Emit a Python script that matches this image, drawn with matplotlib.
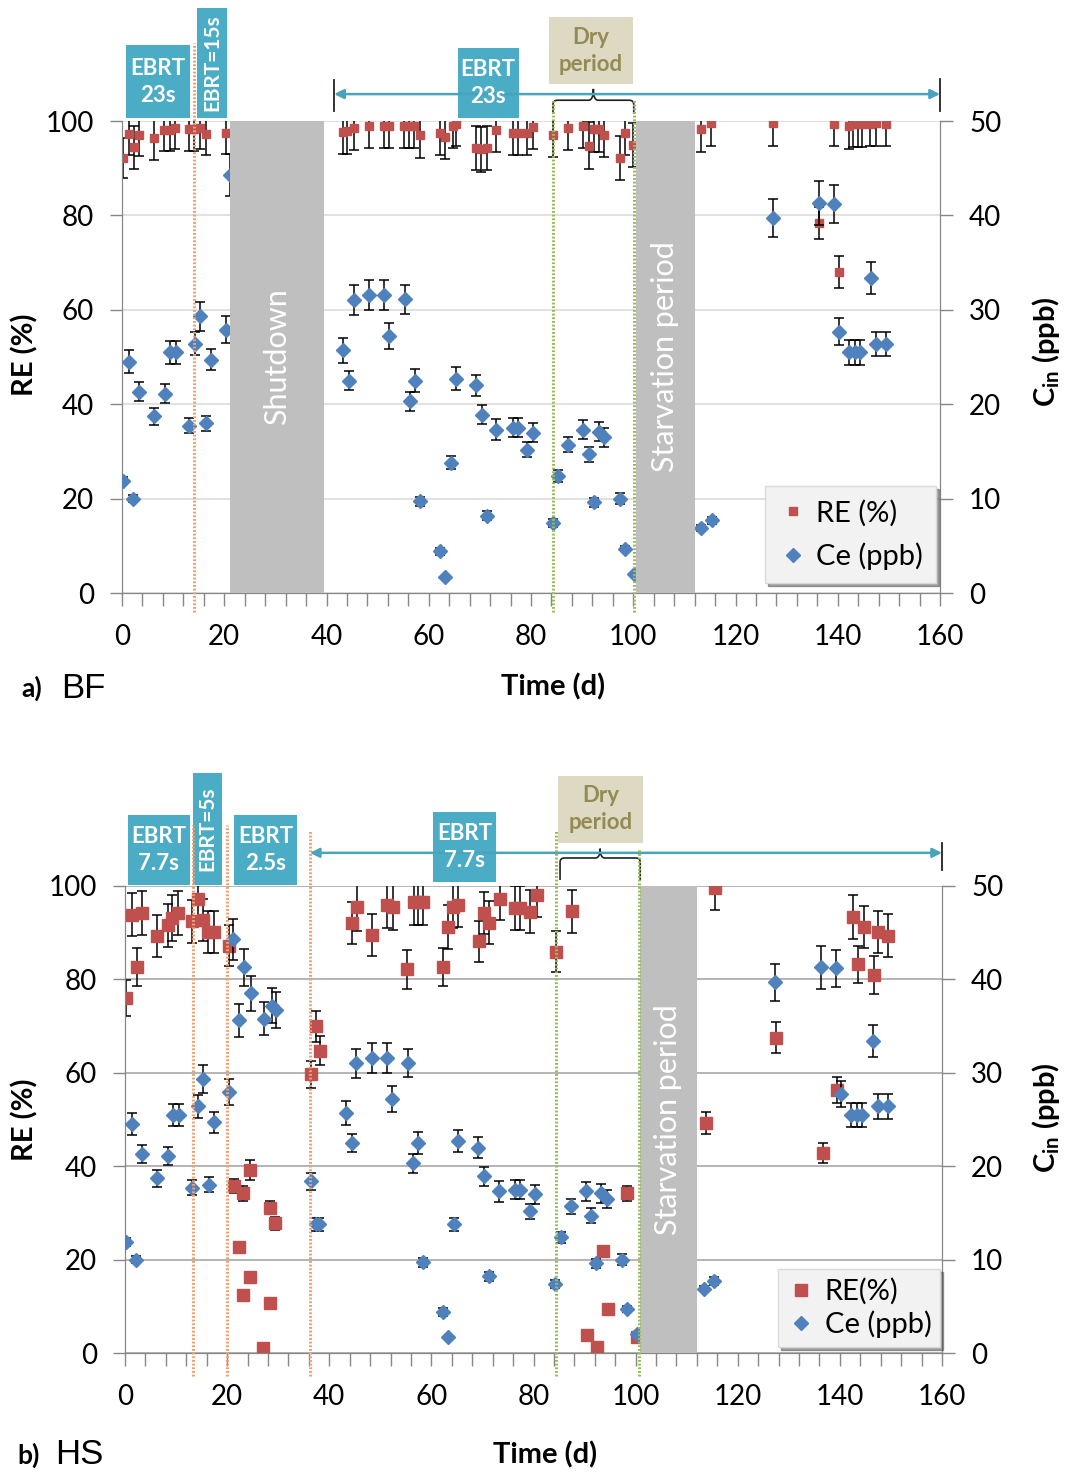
import matplotlib
matplotlib.use('Agg')
import matplotlib.pyplot as plt
import matplotlib.patches as mpatches
from matplotlib.path import Path
import numpy as np

plt.rcParams['font.family'] = ['Lato', 'DejaVu Sans']
plt.rcParams['mathtext.fontset'] = 'custom'
plt.rcParams['mathtext.rm'] = 'Lato'
plt.rcParams['mathtext.bf'] = 'Lato:bold'

RED = '#C0504D'
BLUE = '#4F81BD'
AQUA = '#4BACC6'
GREY_BAR = '#BFBFBF'
ORANGE = '#F0A070'
GREEN = '#9BBB59'

# ---- data: panel a) BF, removal efficiency (%)
days_re_bf = [0.1, 1.4, 2.4, 3.3, 6.2, 8.3, 9.3, 10.3, 13.2, 14.1, 15.3, 16.4, 20.4,
              43.2, 44.1, 45.3, 48.4, 51.3, 52.3, 55.2, 56.2, 57.2, 58.3, 62.2, 63.2,
              64.7, 65.4, 69.2, 70.2, 71.3, 73.2, 76.4, 77.4, 79.3, 80.4, 84.3, 87.3,
              90.2, 91.3, 92.3, 93.3, 94.3, 97.4, 98.4, 100.0,
              113.3, 115.2, 127.3, 136.4, 139.3, 140.3, 142.2, 142.9, 143.9, 144.8,
              146.4, 147.5, 149.4]
re_bf = [92.1, 97.2, 94.4, 97.0, 96.5, 98.1, 98.1, 98.6, 98.2, 98.2, 98.5, 97.2, 97.5,
         97.7, 97.8, 98.5, 99.0, 99.0, 99.0, 99.0, 99.0, 99.0, 97.0, 97.5, 96.7,
         99.0, 99.3, 94.3, 94.0, 94.3, 98.1, 97.5, 97.5, 97.4, 98.8, 97.0, 98.5,
         98.9, 94.8, 98.2, 98.2, 97.0, 92.1, 97.5, 94.9,
         98.2, 99.5, 99.5, 78.3, 99.3, 68.1, 99.0, 99.3, 99.3, 99.3,
         99.3, 99.5, 99.3]
err_re_bf = [4.2, 4.5, 4.5, 4.5, 4.8, 4.5, 4.5, 4.5, 4.5, 4.5, 4.5, 4.5, 4.5,
             4.7, 4.7, 4.7, 4.7, 4.7, 4.7, 4.7, 4.7, 4.7, 4.9, 4.7, 4.7,
             4.7, 4.7, 4.7, 4.7, 4.7, 4.7, 4.7, 4.7, 4.7, 4.7, 4.7, 4.7,
             4.7, 4.9, 4.7, 4.7, 4.7, 4.7, 4.7, 4.7,
             4.7, 4.7, 4.7, 3.4, 4.7, 3.4, 4.9, 4.9, 4.9, 4.9,
             4.7, 4.7, 4.7]

# ---- data: panel b) HS, removal efficiency (%)
days_re_hs = [0.2, 1.3, 2.3, 3.3, 6.3, 8.4, 9.3, 10.3, 13.2, 14.2, 15.3, 16.3, 17.5,
              20.4, 21.3, 22.4, 23.2, 23.2, 24.5, 24.5, 27.1, 28.4, 28.4, 29.4, 36.4,
              37.4, 38.2,
              44.4, 45.4, 48.3, 51.3, 52.4, 55.3, 56.5, 57.4, 58.4, 62.3, 63.3, 64.3,
              65.3, 69.4, 70.4, 71.3, 73.4, 76.4, 77.4, 79.3, 80.6, 84.5, 87.5, 90.4,
              92.4, 93.6, 94.5, 98.4, 100.3,
              113.7, 115.5, 127.4, 136.6, 139.4, 142.5, 143.5, 144.7, 146.7, 147.5,
              149.5]
re_hs = [76.0, 93.8, 82.6, 94.2, 89.3, 91.6, 93.1, 94.2, 92.4, 97.2, 92.7, 90.2, 90.2,
         87.2, 35.8, 22.8, 34.2, 12.4, 39.2, 16.2, 1.1, 31.1, 10.6, 27.8, 59.7,
         70.0, 64.7,
         92.1, 95.4, 89.5, 95.9, 95.6, 82.2, 96.6, 96.6, 96.6, 82.7, 91.3, 95.6,
         95.9, 88.2, 94.2, 92.1, 97.2, 95.2, 95.2, 94.5, 98.1, 85.9, 94.6, 3.9,
         1.2, 21.8, 9.4, 34.2, 3.4,
         49.2, 99.6, 67.5, 42.8, 56.3, 93.3, 83.2, 91.3, 80.9, 90.1,
         89.4]
err_re_hs = [3.8, 4.6, 4.1, 4.7, 4.5, 4.6, 4.9, 4.7, 4.5, 4.5, 4.5, 4.5, 4.5,
             4.4, 1.5, 0, 1.6, 0, 2.1, 0, 0, 1.4, 0, 1.4, 2.9,
             3.3, 3.1,
             4.5, 5.0, 4.5, 5.0, 5.0, 4.2, 5.0, 5.0, 5.0, 4.1, 4.7, 4.6,
             4.6, 4.4, 4.5, 4.6, 4.5, 4.7, 4.7, 4.6, 4.8, 4.4, 4.6, 0,
             0, 0.8, 0, 1.6, 0,
             2.4, 4.8, 3.3, 2.2, 2.7, 4.7, 4.0, 4.5, 4.1, 4.5,
             4.6]

# ---- data: effluent concentration Ce (ppb), same in both panels
days_ce = [0.25, 1.4, 2.1, 3.3, 6.2, 8.5, 9.4, 10.5, 13.2, 14.3, 15.2, 16.4, 17.4, 20.4,
           21.2, 22.4, 23.3, 24.6, 27.3, 28.7, 29.6, 36.4, 37.5, 38.0, 43.2, 44.4,
           45.3, 48.4, 51.3, 52.3, 55.4, 56.4, 57.3, 58.3, 62.2, 63.2, 64.4, 65.3,
           69.2, 70.4, 71.3, 73.2, 76.4, 77.4, 79.3, 80.3, 84.3, 85.3, 87.3, 90.2,
           91.3, 92.3, 93.3, 94.3, 97.4, 98.3, 100.2, 113.3, 115.4, 127.3, 136.4,
           139.3, 140.3, 142.2, 143.3, 144.4, 146.5, 147.5, 149.5]
ce = [11.9, 24.5, 10.0, 21.3, 18.7, 21.1, 25.5, 25.5, 17.7, 26.4, 29.3, 18.0, 24.7, 27.9,
      44.3, 35.6, 41.3, 38.5, 35.8, 37.2, 36.7, 18.4, 13.8, 13.8, 25.7, 22.5,
      31.0, 31.6, 31.6, 27.2, 31.1, 20.3, 22.5, 9.7, 4.4, 1.7, 13.8, 22.7,
      22.0, 18.9, 8.2, 17.3, 17.5, 17.5, 15.2, 17.0, 7.4, 12.4, 15.7, 17.3,
      14.7, 9.6, 17.1, 16.5, 10.0, 4.7, 2.0, 6.9, 7.7, 39.7, 41.3,
      41.2, 27.7, 25.5, 25.5, 25.5, 33.4, 26.4, 26.4]
err_ce = [0.4, 1.2, 0.4, 1.0, 0.9, 1.0, 1.2, 1.2, 0.8, 1.2, 1.5, 0.8, 1.1, 1.4,
          2.2, 1.8, 2.0, 1.9, 1.8, 1.9, 1.9, 0.9, 0.7, 0.7, 1.3, 1.0,
          1.6, 1.6, 1.6, 1.4, 1.5, 1.0, 1.2, 0.5, 0.4, 0, 0.7, 1.2,
          1.1, 1.0, 0.5, 1.1, 1.0, 1.0, 0.8, 1.0, 0.4, 0.6, 0.8, 1.0,
          0.8, 0.5, 1.0, 1.0, 0.6, 0.3, 0, 0.3, 0.4, 2.0, 2.3,
          2.0, 1.4, 1.3, 1.3, 1.3, 1.7, 1.3, 1.3]

xticks = [0, 20, 40, 60, 80, 100, 120, 140, 160]

TICK_FS = 20
LABEL_FS = 21


def draw_series(ax, x, y, e, marker, ms, color, z):
    x = np.asarray(x)
    y = np.asarray(y)
    e = np.asarray(e)
    m = e > 0
    ax.errorbar(x[m], y[m], yerr=e[m], fmt='none', ecolor='black', elinewidth=1.1,
                capsize=3.5, capthick=1.1, zorder=z)
    return ax.plot(x, y, ls='none', marker=marker, ms=ms, color=color, mec=color,
                   zorder=z + 1)[0]


def box(ax, x0, x1, y0, y1, text, fc=AQUA, tc='white', rot=0, size=16):
    ax.add_patch(mpatches.Rectangle((x0, y0), x1 - x0, y1 - y0, fc=fc, ec='none',
                                    clip_on=False, zorder=20))
    ax.text((x0 + x1) / 2, (y0 + y1) / 2, text, color=tc, fontsize=size, weight='bold',
            ha='center', va='center', rotation=rot, linespacing=1.35, zorder=21,
            clip_on=False)


def vline(ax, x, y0, y1, color):
    ax.plot([x, x], [y0, y1], color=color, lw=2.2, ls=(0, (0.6, 0.6)), clip_on=False,
            zorder=15)


def brace(ax, x0, x1, ybot, yh, ytop):
    xm = (x0 + x1) / 2
    r = 0.9
    verts = [(x0, ybot), (x0, yh - r), (x0, yh), (x0 + r, yh),
             (xm - r, yh), (xm, yh), (xm, ytop),
             (xm, yh), (xm + r, yh),
             (x1 - r, yh), (x1, yh), (x1, yh - r), (x1, ybot)]
    codes = [Path.MOVETO, Path.LINETO, Path.CURVE3, Path.CURVE3,
             Path.LINETO, Path.CURVE3, Path.CURVE3,
             Path.CURVE3, Path.CURVE3,
             Path.LINETO, Path.CURVE3, Path.CURVE3, Path.LINETO]
    ax.add_patch(mpatches.PathPatch(Path(verts, codes), fc='none', ec='#222222', lw=1.2,
                                    clip_on=False, zorder=20))


def range_arrow(ax, x0, x1, y, bar_left=None, bar_right=None):
    ax.annotate('', xy=(x0, y), xytext=(x1, y), annotation_clip=False,
                arrowprops=dict(arrowstyle='<|-|>', color='#4AA3BD', lw=1.8,
                                mutation_scale=14, shrinkA=0, shrinkB=0), zorder=20)
    for xb, yy in ((x0, bar_left), (x1, bar_right)):
        if yy is not None:
            ax.plot([xb, xb], yy, color='#222222', lw=1.3, clip_on=False, zorder=21)


def setup_axes(ax, ax2, grid_color):
    ax.set_xlim(0, 160)
    ax.set_ylim(0, 100)
    ax2.set_ylim(0, 50)
    ax.set_xticks(xticks)
    ax.set_xticks(np.arange(0, 161, 4), minor=True)
    ax.set_yticks([0, 20, 40, 60, 80, 100])
    ax2.set_yticks([0, 10, 20, 30, 40, 50])
    ax.tick_params(axis='both', which='both', direction='out', length=9, width=1,
                   color='#868686', labelsize=TICK_FS, pad=11)
    ax.tick_params(axis='x', which='major', pad=13)
    ax.tick_params(axis='x', which='minor', length=9)
    ax2.tick_params(axis='y', direction='out', length=9, width=1, color='#868686',
                    labelsize=TICK_FS, pad=12)
    for a in (ax, ax2):
        a.spines['top'].set_visible(False)
        for s in ('left', 'right', 'bottom'):
            a.spines[s].set_color('#868686')
    ax.yaxis.grid(True, color=grid_color, lw=1.1)
    ax.set_axisbelow(True)


fig = plt.figure(figsize=(10.66, 14.72), dpi=100)
W, H = 1066.0, 1472.0

# ===================== panel a) BF =====================
ax = fig.add_axes([122 / W, 1 - 593 / H, 818 / W, 472 / H])
ax2 = ax.twinx()
setup_axes(ax, ax2, '#D9D9D9')
h_re = draw_series(ax, days_re_bf, re_bf, err_re_bf, 's', 5.5, RED, 3)
h_ce = draw_series(ax2, days_ce, ce, err_ce, 'D', 7.5, BLUE, 3)

ax2.axvspan(21.2, 39.6, color=GREY_BAR, zorder=10, lw=0)
ax2.axvspan(100.6, 112.0, color=GREY_BAR, zorder=10, lw=0)
ax2.text(30.3, 25, 'Shutdown', color='white', fontsize=22, rotation=90, ha='center',
         va='center', zorder=30)
ax2.text(106.3, 25, 'Starvation period', color='white', fontsize=22, rotation=90,
         ha='center', va='center', zorder=30)

vline(ax2, 14.0, -2, 58.3, ORANGE)
vline(ax2, 84.3, -2, 52.2, GREEN)
vline(ax2, 100.1, -2, 52.2, GREEN)

box(ax, 0.8, 13.3, 100.6, 116.1, 'EBRT\n23s')
box(ax, 14.7, 20.5, 100.6, 123.9, 'EBRT=15s', rot=90, size=15)
box(ax, 65.7, 77.6, 100.6, 115.5, 'EBRT\n23s')
box(ax, 83.5, 100.0, 107.8, 122.0, 'Dry\nperiod', fc='#DDD9C3', tc='#948A54')
brace(ax, 84.3, 100.1, 101.5, 104.4, 106.8)
range_arrow(ax, 41.5, 160, 105.7, bar_left=[102.1, 108.7], bar_right=[102.1, 108.9])

leg = ax2.legend([h_re, h_ce], ['RE (%)', 'Ce (ppb)'], loc='lower right',
                 bbox_to_anchor=(0.995, 0.021), borderaxespad=0, fontsize=21,
                 frameon=True, fancybox=False, shadow=True, facecolor='#F2F2F2',
                 edgecolor='#D9D9D9', framealpha=1, handletextpad=0.3, handlelength=1.0,
                 borderpad=0.45, labelspacing=0.55)
leg.set_zorder(40)

fig.text(25 / W, 1 - 355 / H, 'RE (%)', rotation=90, ha='center', va='center',
         fontsize=LABEL_FS, weight='bold')
fig.text(1046 / W, 1 - 352 / H, r'C$_{\mathbf{in}}$ (ppb)', rotation=90, ha='center',
         va='center', fontsize=LABEL_FS, weight='bold')
fig.text(553 / W, 1 - 687 / H, 'Time (d)', ha='center', va='center', fontsize=LABEL_FS,
         weight='bold')
fig.text(21 / W, 1 - 688 / H, 'a)', ha='left', va='center', fontsize=19, weight='bold')
fig.text(61 / W, 1 - 688 / H, 'BF', ha='left', va='center', fontsize=25,
         family='Liberation Sans')

# ===================== panel b) HS =====================
bx = fig.add_axes([125 / W, 1 - 1353 / H, 817 / W, 467 / H])
bx2 = bx.twinx()
setup_axes(bx, bx2, '#A0A0A0')
h_re2 = draw_series(bx, days_re_hs, re_hs, err_re_hs, 's', 9, RED, 3)
h_ce2 = draw_series(bx2, days_ce, ce, err_ce, 'D', 7.5, BLUE, 3)

bx2.axvspan(100.9, 112.0, color=GREY_BAR, zorder=10, lw=0)
bx2.text(106.3, 25, 'Starvation period', color='white', fontsize=22, rotation=90,
         ha='center', va='center', zorder=30)

vline(bx2, 13.3, -2.5, 56.5, ORANGE)
vline(bx2, 20.0, -2.5, 56.5, ORANGE)
vline(bx2, 36.2, -2.5, 56.0, ORANGE)
vline(bx2, 84.5, -2.5, 56.0, GREEN)
vline(bx2, 100.6, -2.5, 54.0, GREEN)

box(bx, 0.6, 12.7, 100.2, 115.2, 'EBRT\n7.7s')
box(bx, 13.3, 19.0, 100.2, 124.2, 'EBRT=5s', rot=90, size=15)
box(bx, 21.3, 33.7, 100.2, 115.2, 'EBRT\n2.5s')
box(bx, 60.3, 72.7, 100.9, 115.8, 'EBRT\n7.7s')
box(bx, 84.8, 101.4, 109.2, 123.6, 'Dry\nperiod', fc='#DDD9C3', tc='#948A54')
brace(bx, 85.2, 100.9, 101.3, 106.0, 108.0)
range_arrow(bx, 36.2, 160, 107.1, bar_right=[103.4, 109.2])

leg2 = bx2.legend([h_re2, h_ce2], ['RE(%)', 'Ce (ppb)'], loc='lower right',
                  bbox_to_anchor=(0.998, 0.013), borderaxespad=0, fontsize=21,
                  frameon=True, fancybox=False, shadow=True, facecolor='#F2F2F2',
                  edgecolor='#D9D9D9', framealpha=1, handletextpad=0.3, handlelength=1.0,
                  borderpad=0.3, labelspacing=0.2)
leg2.set_zorder(40)

fig.text(25 / W, 1 - 1120 / H, 'RE (%)', rotation=90, ha='center', va='center',
         fontsize=LABEL_FS, weight='bold')
fig.text(1046 / W, 1 - 1118 / H, r'C$_{\mathbf{in}}$ (ppb)', rotation=90, ha='center',
         va='center', fontsize=LABEL_FS, weight='bold')
fig.text(545 / W, 1 - 1455 / H, 'Time (d)', ha='center', va='center', fontsize=LABEL_FS,
         weight='bold')
fig.text(17 / W, 1 - 1455 / H, 'b)', ha='left', va='center', fontsize=19, weight='bold')
fig.text(55 / W, 1 - 1455 / H, 'HS', ha='left', va='center', fontsize=25,
         family='Liberation Sans')

fig.savefig('out.png', dpi=100)
